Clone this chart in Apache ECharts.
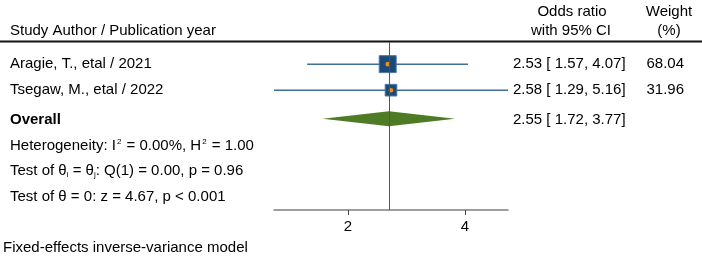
<!DOCTYPE html>
<html lang="en">
<head>
<meta charset="UTF-8">
<title>Forest plot</title>
<script src="https://cdn.jsdelivr.net/npm/echarts@6/dist/echarts.min.js"></script>
<style>
  html, body { margin: 0; padding: 0; background: #fff; }
  #chart { width: 702px; height: 261px; }
</style>
</head>
<body>
<div id="chart"></div>
<script>
  // study level data
  const studies = ['Aragie, T., etal / 2021', 'Tsegaw, M., etal / 2022'];
  const oddsRatio = [2.53, 2.58];
  const ciLow = [1.57, 1.29];
  const ciHigh = [4.07, 5.16];
  const weights = [68.04, 31.96];
  // pooled estimate: [OR, low, high]
  const overall = [2.55, 1.72, 3.77];
  // heterogeneity and tests
  const hetI2 = 0.00, hetH2 = 1.00;
  const testQ = [1, 0.00, 0.96]; // df, Q, p
  const testZ = [4.67, '< 0.001'];
  const xTicks = [2, 4];

  const FONT = '"Liberation Sans", Arial, Helvetica, sans-serif';
  const studyRows = [1, 2];
  const overallRow = 3.1;
  const fmt = (v) => v.toFixed(2);
  const ciText = (e, l, h) => `${fmt(e)} [ ${fmt(l)}, ${fmt(h)}]`;

  const txt = (x, y, text, extra) => ({
    type: 'text', x, y, silent: true,
    style: Object.assign({ text, fill: '#000', font: `15px ${FONT}`, verticalAlign: 'middle' }, extra || {})
  });

  // rich styles for super/subscripts
  const richBase = {
    n: { fontSize: 15, fontFamily: FONT, color: '#000', lineHeight: 15 },
    sup: { fontSize: 8, fontFamily: FONT, color: '#000', lineHeight: 8, verticalAlign: 'middle', padding: [0, 1, 8, 1] },
    sub: { fontSize: 8, fontFamily: FONT, color: '#000', lineHeight: 8, verticalAlign: 'middle', padding: [7, 0, 0, 0] }
  };

  const chart = echarts.init(document.getElementById('chart'), null, { renderer: 'canvas' });

  const studyData = studies.map((s, i) => [oddsRatio[i], studyRows[i], ciLow[i], ciHigh[i], weights[i]]);

  chart.setOption({
    animation: false,
    backgroundColor: '#fff',
    grid: { left: 274, right: 194, top: 42, bottom: 51 },
    xAxis: {
      type: 'log',
      logBase: 2,
      min: 1.29,
      max: 5.16,
      splitLine: { show: false },
      axisLine: { show: true, lineStyle: { color: '#7f7f7f', width: 1.5 } },
      axisTick: { show: true, length: 5, lineStyle: { color: '#444', width: 1 }, customValues: xTicks },
      axisLabel: { color: '#000', fontSize: 15, fontFamily: FONT, margin: 9, customValues: xTicks }
    },
    yAxis: {
      type: 'value', inverse: true, min: 0.15, max: 6.6, show: false
    },
    graphic: [
      txt(572, 12, 'Odds ratio', { align: 'center' }),
      txt(571, 31, 'with 95% CI', { align: 'center' }),
      txt(669, 12, 'Weight', { align: 'center' }),
      txt(669, 31, '(%)', { align: 'center' }),
      txt(10, 31, 'Study Author / Publication year'),
      { type: 'line', silent: true, shape: { x1: 0, y1: 41.5, x2: 702, y2: 41.5 }, style: { stroke: '#111', lineWidth: 2 } },
      {
        type: 'text', x: 10, y: 146, silent: true,
        style: {
          text: `{n|Heterogeneity: I}{sup|2}{n| = ${fmt(hetI2)}%, H}{sup|2}{n| = ${fmt(hetH2)}}`,
          verticalAlign: 'middle',
          rich: richBase
        }
      },
      {
        type: 'text', x: 10, y: 171, silent: true,
        style: {
          text: `{n|Test of θ}{sub|i}{n| = θ}{sub|j}{n|: Q(${testQ[0]}) = ${fmt(testQ[1])}, p = ${fmt(testQ[2])}}`,
          verticalAlign: 'middle',
          rich: richBase
        }
      },
      txt(10, 197, `Test of θ = 0: z = ${fmt(testZ[0])}, p ${testZ[1]}`),
      txt(3, 248, 'Fixed-effects inverse-variance model')
    ],
    series: [
      {
        type: 'custom',
        name: 'studies',
        clip: false,
        silent: true,
        data: studyData,
        encode: { x: 0, y: 1 },
        renderItem: (params, api) => {
          const i = params.dataIndex;
          const row = api.value(1);
          const pLo = api.coord([api.value(2), row]);
          const pHi = api.coord([api.value(3), row]);
          const pMid = api.coord([api.value(0), row]);
          const s = 2.06 * Math.sqrt(api.value(4));
          const y = pMid[1];
          return {
            type: 'group',
            children: [
              { type: 'line', shape: { x1: pLo[0], y1: y, x2: pHi[0], y2: y }, style: { stroke: '#3f6d9c', lineWidth: 1.5 } },
              { type: 'rect', shape: { x: pMid[0] - s / 2, y: y - s / 2, width: s, height: s }, style: { fill: '#1c4a78', stroke: '#4f78a0', lineWidth: 1 } },
              { type: 'circle', shape: { cx: pMid[0], cy: y, r: 2.3 }, style: { fill: '#f08c12' } },
              { type: 'text', x: 10, y, style: { text: studies[i], font: `15px ${FONT}`, fill: '#000', verticalAlign: 'middle' } },
              { type: 'text', x: 513, y, style: { text: ciText(oddsRatio[i], ciLow[i], ciHigh[i]), font: `15px ${FONT}`, fill: '#000', verticalAlign: 'middle' } },
              { type: 'text', x: 684, y, style: { text: fmt(weights[i]), font: `15px ${FONT}`, fill: '#000', verticalAlign: 'middle', align: 'right' } }
            ]
          };
        }
      },
      {
        type: 'custom',
        name: 'overall',
        clip: false,
        silent: true,
        data: [[overall[0], overallRow, overall[1], overall[2]]],
        encode: { x: 0, y: 1 },
        renderItem: (params, api) => {
          const row = api.value(1);
          const pLo = api.coord([api.value(2), row]);
          const pHi = api.coord([api.value(3), row]);
          const pMid = api.coord([api.value(0), row]);
          const y = pMid[1];
          const h = 7.5;
          return {
            type: 'group',
            children: [
              { type: 'polygon', shape: { points: [[pLo[0], y], [pMid[0], y - h], [pHi[0], y], [pMid[0], y + h]] }, style: { fill: '#4f7b27' } },
              { type: 'text', x: 10, y: y + 1, style: { text: 'Overall', font: `bold 15px ${FONT}`, fill: '#000', verticalAlign: 'middle' } },
              { type: 'text', x: 513, y: y + 1, style: { text: ciText(overall[0], overall[1], overall[2]), font: `15px ${FONT}`, fill: '#000', verticalAlign: 'middle' } }
            ]
          };
        },
        markLine: {
          silent: true,
          symbol: 'none',
          label: { show: false },
          lineStyle: { color: '#b8283c', width: 1, type: 'solid' },
          data: [{ xAxis: overall[0] }]
        }
      }
    ]
  });
</script>
</body>
</html>
